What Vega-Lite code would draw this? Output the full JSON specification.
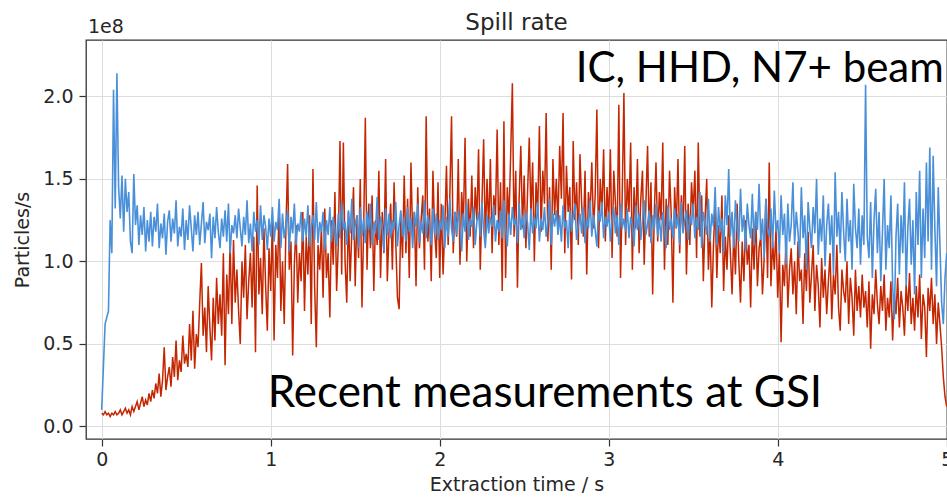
{
"$schema": "https://vega.github.io/schema/vega-lite/v6.json",
"width": 861, "height": 399,
"autosize": {"type": "none"},
"padding": {"left": 86, "top": 40, "right": 0, "bottom": 59},
"background": "white",
"title": {"text": "Spill rate", "font": "DejaVu Sans", "fontSize": 23, "fontWeight": "normal", "color": "#262626", "anchor": "middle", "offset": 8, "dy": 25},
"config": {
  "view": {"stroke": "#333333", "strokeWidth": 1.3},
  "axis": {"domain": false, "grid": true, "gridColor": "#dddddd", "gridWidth": 1, "tickColor": "#333333", "tickSize": 7, "tickWidth": 1.2,
    "labelFont": "DejaVu Sans", "labelFontSize": 19, "labelColor": "#262626", "labelOverlap": false, "labelFlush": false,
    "titleFont": "DejaVu Sans", "titleFontSize": 19, "titleFontWeight": "normal", "titleColor": "#262626"}
},
"layer": [
  {"data": {"name": "spill", "values": [
{"t":0.00,"r":0.08,"b":0.10},{"t":0.01,"r":0.07,"b":0.36},{"t":0.02,"r":0.09,"b":0.62},{"t":0.03,"r":0.07,"b":0.66},{"t":0.04,"r":0.08,"b":0.70},{"t":0.05,"r":0.06,"b":1.25},{"t":0.06,"r":0.08,"b":1.05},{"t":0.07,"r":0.07,"b":2.04},{"t":0.08,"r":0.09,"b":1.32},{"t":0.09,"r":0.07,"b":2.14},
{"t":0.10,"r":0.08,"b":1.45},{"t":0.11,"r":0.10,"b":1.26},{"t":0.12,"r":0.07,"b":1.52},{"t":0.13,"r":0.09,"b":1.18},{"t":0.14,"r":0.11,"b":1.50},{"t":0.15,"r":0.08,"b":1.30},{"t":0.16,"r":0.10,"b":1.42},{"t":0.17,"r":0.07,"b":1.12},{"t":0.18,"r":0.12,"b":1.05},{"t":0.19,"r":0.09,"b":1.53},
{"t":0.20,"r":0.12,"b":1.22},{"t":0.21,"r":0.15,"b":1.34},{"t":0.22,"r":0.10,"b":1.10},{"t":0.23,"r":0.14,"b":1.28},{"t":0.24,"r":0.18,"b":1.16},{"t":0.25,"r":0.12,"b":1.33},{"t":0.26,"r":0.16,"b":1.06},{"t":0.27,"r":0.13,"b":1.25},{"t":0.28,"r":0.20,"b":1.12},{"t":0.29,"r":0.15,"b":1.30},
{"t":0.30,"r":0.22,"b":1.09},{"t":0.31,"r":0.17,"b":1.27},{"t":0.32,"r":0.26,"b":1.18},{"t":0.33,"r":0.20,"b":1.35},{"t":0.34,"r":0.32,"b":1.08},{"t":0.35,"r":0.18,"b":1.23},{"t":0.36,"r":0.28,"b":1.14},{"t":0.37,"r":0.48,"b":1.29},{"t":0.38,"r":0.22,"b":1.04},{"t":0.39,"r":0.30,"b":1.24},
{"t":0.40,"r":0.36,"b":1.31},{"t":0.41,"r":0.24,"b":1.12},{"t":0.42,"r":0.42,"b":1.26},{"t":0.43,"r":0.30,"b":1.17},{"t":0.44,"r":0.52,"b":1.37},{"t":0.45,"r":0.28,"b":1.09},{"t":0.46,"r":0.40,"b":1.21},{"t":0.47,"r":0.33,"b":1.15},{"t":0.48,"r":0.55,"b":1.32},{"t":0.49,"r":0.38,"b":1.07},
{"t":0.50,"r":0.44,"b":1.25},{"t":0.51,"r":0.36,"b":1.13},{"t":0.52,"r":0.62,"b":1.34},{"t":0.53,"r":0.40,"b":1.20},{"t":0.54,"r":0.70,"b":1.06},{"t":0.55,"r":0.35,"b":1.28},{"t":0.56,"r":0.56,"b":1.16},{"t":0.57,"r":0.48,"b":1.30},{"t":0.58,"r":0.75,"b":1.10},{"t":0.59,"r":0.99,"b":1.23},
{"t":0.60,"r":0.55,"b":1.36},{"t":0.61,"r":0.72,"b":1.11},{"t":0.62,"r":0.45,"b":1.24},{"t":0.63,"r":0.85,"b":1.19},{"t":0.64,"r":0.60,"b":1.29},{"t":0.65,"r":0.40,"b":1.02},{"t":0.66,"r":0.78,"b":1.27},{"t":0.67,"r":0.52,"b":1.14},{"t":0.68,"r":0.90,"b":1.33},{"t":0.69,"r":0.62,"b":1.18},
{"t":0.70,"r":0.80,"b":1.08},{"t":0.71,"r":0.55,"b":1.26},{"t":0.72,"r":1.05,"b":1.15},{"t":0.73,"r":0.37,"b":1.31},{"t":0.74,"r":0.92,"b":1.12},{"t":0.75,"r":0.68,"b":1.35},{"t":0.76,"r":1.12,"b":1.05},{"t":0.77,"r":0.62,"b":1.22},{"t":0.78,"r":1.13,"b":1.17},{"t":0.79,"r":0.75,"b":1.28},
{"t":0.80,"r":0.95,"b":1.14},{"t":0.81,"r":0.70,"b":1.32},{"t":0.82,"r":0.50,"b":1.20},{"t":0.83,"r":1.00,"b":1.09},{"t":0.84,"r":0.78,"b":1.27},{"t":0.85,"r":1.10,"b":1.16},{"t":0.86,"r":0.65,"b":1.37},{"t":0.87,"r":0.88,"b":1.11},{"t":0.88,"r":1.05,"b":1.23},{"t":0.89,"r":0.72,"b":1.06},
{"t":0.90,"r":1.15,"b":1.30},{"t":0.91,"r":0.45,"b":1.18},{"t":0.92,"r":1.46,"b":1.25},{"t":0.93,"r":0.80,"b":1.10},{"t":0.94,"r":1.02,"b":1.34},{"t":0.95,"r":0.68,"b":1.13},{"t":0.96,"r":1.20,"b":1.28},{"t":0.97,"r":0.85,"b":1.21},{"t":0.98,"r":0.58,"b":1.07},{"t":0.99,"r":1.08,"b":1.26},
{"t":1.00,"r":0.82,"b":1.15},{"t":1.01,"r":1.25,"b":1.33},{"t":1.02,"r":0.52,"b":1.12},{"t":1.03,"r":1.10,"b":1.24},{"t":1.04,"r":0.90,"b":1.19},{"t":1.05,"r":1.35,"b":1.38},{"t":1.06,"r":0.70,"b":1.08},{"t":1.07,"r":1.00,"b":1.29},{"t":1.08,"r":0.62,"b":1.14},{"t":1.09,"r":1.20,"b":1.22},
{"t":1.10,"r":1.59,"b":1.31},{"t":1.11,"r":0.95,"b":1.06},{"t":1.12,"r":1.12,"b":1.27},{"t":1.13,"r":0.43,"b":1.17},{"t":1.14,"r":0.98,"b":1.35},{"t":1.15,"r":1.22,"b":1.10},{"t":1.16,"r":0.75,"b":1.23},{"t":1.17,"r":1.05,"b":1.18},{"t":1.18,"r":0.88,"b":1.30},{"t":1.19,"r":1.30,"b":1.12},
{"t":1.20,"r":0.70,"b":1.26},{"t":1.21,"r":1.15,"b":1.15},{"t":1.22,"r":0.92,"b":1.34},{"t":1.23,"r":1.28,"b":1.09},{"t":1.24,"r":0.62,"b":1.21},{"t":1.25,"r":1.56,"b":1.28},{"t":1.26,"r":0.85,"b":1.13},{"t":1.27,"r":0.48,"b":1.36},{"t":1.28,"r":1.10,"b":1.11},{"t":1.29,"r":0.95,"b":1.24},
{"t":1.30,"r":1.20,"b":1.18},{"t":1.31,"r":0.78,"b":1.30},{"t":1.32,"r":1.32,"b":1.07},{"t":1.33,"r":0.90,"b":1.25},{"t":1.34,"r":1.05,"b":1.16},{"t":1.35,"r":0.66,"b":1.33},{"t":1.36,"r":1.25,"b":1.12},{"t":1.37,"r":0.98,"b":1.27},{"t":1.38,"r":1.42,"b":1.20},{"t":1.39,"r":0.82,"b":1.09},
{"t":1.40,"r":1.10,"b":1.29},{"t":1.41,"r":1.73,"b":1.14},{"t":1.42,"r":0.92,"b":1.36},{"t":1.43,"r":1.72,"b":1.19},{"t":1.44,"r":1.00,"b":1.24},{"t":1.45,"r":0.75,"b":1.10},{"t":1.46,"r":1.30,"b":1.31},{"t":1.47,"r":0.88,"b":1.17},{"t":1.48,"r":1.18,"b":1.38},{"t":1.49,"r":1.45,"b":1.13},
{"t":1.50,"r":0.85,"b":1.22},{"t":1.51,"r":1.28,"b":1.28},{"t":1.52,"r":1.02,"b":1.08},{"t":1.53,"r":1.50,"b":1.33},{"t":1.54,"r":0.72,"b":1.15},{"t":1.55,"r":1.20,"b":1.26},{"t":1.56,"r":1.87,"b":1.11},{"t":1.57,"r":0.95,"b":1.30},{"t":1.58,"r":1.35,"b":1.19},{"t":1.59,"r":1.08,"b":1.35},
{"t":1.60,"r":1.40,"b":1.10},{"t":1.61,"r":0.82,"b":1.24},{"t":1.62,"r":1.25,"b":1.17},{"t":1.63,"r":1.10,"b":1.39},{"t":1.64,"r":1.55,"b":1.13},{"t":1.65,"r":0.90,"b":1.27},{"t":1.66,"r":1.30,"b":1.21},{"t":1.67,"r":1.05,"b":1.06},{"t":1.68,"r":1.62,"b":1.32},{"t":1.69,"r":0.88,"b":1.16},
{"t":1.70,"r":1.18,"b":1.29},{"t":1.71,"r":1.35,"b":1.14},{"t":1.72,"r":0.95,"b":1.25},{"t":1.73,"r":1.48,"b":1.19},{"t":1.74,"r":1.12,"b":1.36},{"t":1.75,"r":0.78,"b":1.09},{"t":1.76,"r":0.71,"b":1.22},{"t":1.77,"r":1.28,"b":1.31},{"t":1.78,"r":1.02,"b":1.15},{"t":1.79,"r":1.52,"b":1.27},
{"t":1.80,"r":1.05,"b":1.12},{"t":1.81,"r":1.38,"b":1.33},{"t":1.82,"r":0.90,"b":1.18},{"t":1.83,"r":1.60,"b":1.26},{"t":1.84,"r":1.15,"b":1.08},{"t":1.85,"r":1.30,"b":1.30},{"t":1.86,"r":0.85,"b":1.21},{"t":1.87,"r":1.45,"b":1.35},{"t":1.88,"r":1.08,"b":1.11},{"t":1.89,"r":1.25,"b":1.24},
{"t":1.90,"r":1.40,"b":1.17},{"t":1.91,"r":0.95,"b":1.37},{"t":1.92,"r":1.88,"b":1.14},{"t":1.93,"r":1.12,"b":1.28},{"t":1.94,"r":1.32,"b":1.22},{"t":1.95,"r":0.88,"b":1.10},{"t":1.96,"r":1.55,"b":1.32},{"t":1.97,"r":1.18,"b":1.16},{"t":1.98,"r":1.02,"b":1.29},{"t":1.99,"r":1.48,"b":1.13},
{"t":2.00,"r":0.90,"b":1.25},{"t":2.01,"r":1.35,"b":1.19},{"t":2.02,"r":0.92,"b":1.34},{"t":2.03,"r":1.20,"b":1.08},{"t":2.04,"r":1.58,"b":1.27},{"t":2.05,"r":1.10,"b":1.15},{"t":2.06,"r":1.40,"b":1.38},{"t":2.07,"r":1.88,"b":1.20},{"t":2.08,"r":1.05,"b":1.12},{"t":2.09,"r":1.30,"b":1.30},
{"t":2.10,"r":1.15,"b":1.16},{"t":2.11,"r":1.62,"b":1.31},{"t":2.12,"r":0.98,"b":1.22},{"t":2.13,"r":1.42,"b":1.06},{"t":2.14,"r":1.22,"b":1.29},{"t":2.15,"r":1.75,"b":1.18},{"t":2.16,"r":1.00,"b":1.35},{"t":2.17,"r":1.38,"b":1.13},{"t":2.18,"r":1.15,"b":1.26},{"t":2.19,"r":1.52,"b":1.21},
{"t":2.20,"r":1.08,"b":1.33},{"t":2.21,"r":1.45,"b":1.10},{"t":2.22,"r":1.25,"b":1.24},{"t":2.23,"r":1.68,"b":1.30},{"t":2.24,"r":0.95,"b":1.15},{"t":2.25,"r":1.35,"b":1.36},{"t":2.26,"r":1.74,"b":1.19},{"t":2.27,"r":1.12,"b":1.08},{"t":2.28,"r":1.50,"b":1.28},{"t":2.29,"r":1.20,"b":1.17},
{"t":2.30,"r":1.62,"b":1.27},{"t":2.31,"r":1.05,"b":1.21},{"t":2.32,"r":1.40,"b":1.34},{"t":2.33,"r":1.28,"b":1.12},{"t":2.34,"r":1.80,"b":1.25},{"t":2.35,"r":1.10,"b":1.18},{"t":2.36,"r":1.48,"b":1.31},{"t":2.37,"r":0.82,"b":1.14},{"t":2.38,"r":1.85,"b":1.37},{"t":2.39,"r":0.90,"b":1.20},
{"t":2.40,"r":1.45,"b":1.09},{"t":2.41,"r":1.25,"b":1.29},{"t":2.42,"r":1.65,"b":1.16},{"t":2.43,"r":2.08,"b":1.33},{"t":2.44,"r":1.15,"b":1.22},{"t":2.45,"r":1.55,"b":1.26},{"t":2.46,"r":0.84,"b":1.11},{"t":2.47,"r":1.38,"b":1.35},{"t":2.48,"r":1.70,"b":1.19},{"t":2.49,"r":1.20,"b":1.28},
{"t":2.50,"r":1.52,"b":1.14},{"t":2.51,"r":1.08,"b":1.30},{"t":2.52,"r":1.42,"b":1.23},{"t":2.53,"r":1.75,"b":1.07},{"t":2.54,"r":1.28,"b":1.32},{"t":2.55,"r":1.60,"b":1.17},{"t":2.56,"r":1.00,"b":1.27},{"t":2.57,"r":1.48,"b":1.20},{"t":2.58,"r":1.30,"b":1.36},{"t":2.59,"r":1.82,"b":1.12},
{"t":2.60,"r":1.18,"b":1.26},{"t":2.61,"r":1.55,"b":1.19},{"t":2.62,"r":1.35,"b":1.33},{"t":2.63,"r":1.90,"b":1.15},{"t":2.64,"r":1.12,"b":1.24},{"t":2.65,"r":1.45,"b":1.38},{"t":2.66,"r":0.95,"b":1.10},{"t":2.67,"r":1.62,"b":1.29},{"t":2.68,"r":1.28,"b":1.21},{"t":2.69,"r":1.50,"b":1.31},
{"t":2.70,"r":1.22,"b":1.16},{"t":2.71,"r":1.70,"b":1.28},{"t":2.72,"r":1.38,"b":1.12},{"t":2.73,"r":1.90,"b":1.34},{"t":2.74,"r":1.05,"b":1.20},{"t":2.75,"r":1.58,"b":1.25},{"t":2.76,"r":1.30,"b":1.08},{"t":2.77,"r":1.45,"b":1.31},{"t":2.78,"r":0.89,"b":1.18},{"t":2.79,"r":1.73,"b":1.27},
{"t":2.80,"r":1.25,"b":1.35},{"t":2.81,"r":1.48,"b":1.13},{"t":2.82,"r":1.10,"b":1.22},{"t":2.83,"r":1.65,"b":1.29},{"t":2.84,"r":1.35,"b":1.17},{"t":2.85,"r":1.15,"b":1.33},{"t":2.86,"r":1.55,"b":1.11},{"t":2.87,"r":0.92,"b":1.26},{"t":2.88,"r":1.42,"b":1.20},{"t":2.89,"r":1.28,"b":1.37},
{"t":2.90,"r":1.60,"b":1.15},{"t":2.91,"r":1.20,"b":1.28},{"t":2.92,"r":1.40,"b":1.19},{"t":2.93,"r":1.92,"b":1.09},{"t":2.94,"r":1.08,"b":1.31},{"t":2.95,"r":1.50,"b":1.24},{"t":2.96,"r":1.30,"b":1.36},{"t":2.97,"r":1.68,"b":1.14},{"t":2.98,"r":1.12,"b":1.27},{"t":2.99,"r":1.45,"b":1.21},
{"t":3.00,"r":1.25,"b":1.30},{"t":3.01,"r":1.68,"b":1.12},{"t":3.02,"r":1.02,"b":1.25},{"t":3.03,"r":1.55,"b":1.33},{"t":3.04,"r":1.35,"b":1.17},{"t":3.05,"r":1.15,"b":1.28},{"t":3.06,"r":1.95,"b":1.10},{"t":3.07,"r":0.90,"b":1.35},{"t":3.08,"r":1.40,"b":1.20},{"t":3.09,"r":2.02,"b":1.26},
{"t":3.10,"r":1.10,"b":1.18},{"t":3.11,"r":1.50,"b":1.32},{"t":3.12,"r":1.30,"b":1.14},{"t":3.13,"r":1.72,"b":1.27},{"t":3.14,"r":0.95,"b":1.22},{"t":3.15,"r":1.45,"b":1.09},{"t":3.16,"r":1.20,"b":1.34},{"t":3.17,"r":1.62,"b":1.19},{"t":3.18,"r":1.05,"b":1.29},{"t":3.19,"r":1.38,"b":1.13},
{"t":3.20,"r":1.55,"b":1.25},{"t":3.21,"r":0.98,"b":1.37},{"t":3.22,"r":1.35,"b":1.16},{"t":3.23,"r":1.70,"b":1.23},{"t":3.24,"r":1.15,"b":1.31},{"t":3.25,"r":1.48,"b":1.11},{"t":3.26,"r":0.80,"b":1.28},{"t":3.27,"r":1.30,"b":1.20},{"t":3.28,"r":1.60,"b":1.35},{"t":3.29,"r":1.12,"b":1.15},
{"t":3.30,"r":1.42,"b":1.27},{"t":3.31,"r":1.25,"b":1.12},{"t":3.32,"r":1.72,"b":1.30},{"t":3.33,"r":0.95,"b":1.21},{"t":3.34,"r":1.38,"b":1.08},{"t":3.35,"r":1.10,"b":1.34},{"t":3.36,"r":1.55,"b":1.19},{"t":3.37,"r":1.28,"b":1.26},{"t":3.38,"r":0.75,"b":1.14},{"t":3.39,"r":1.45,"b":1.32},
{"t":3.40,"r":1.20,"b":1.20},{"t":3.41,"r":1.62,"b":1.29},{"t":3.42,"r":1.05,"b":1.10},{"t":3.43,"r":1.40,"b":1.36},{"t":3.44,"r":1.18,"b":1.17},{"t":3.45,"r":1.70,"b":1.25},{"t":3.46,"r":0.92,"b":1.31},{"t":3.47,"r":1.35,"b":1.13},{"t":3.48,"r":1.10,"b":1.28},{"t":3.49,"r":1.48,"b":1.22},
{"t":3.50,"r":1.30,"b":1.35},{"t":3.51,"r":1.55,"b":1.14},{"t":3.52,"r":1.02,"b":1.27},{"t":3.53,"r":1.72,"b":1.19},{"t":3.54,"r":1.15,"b":1.42},{"t":3.55,"r":1.40,"b":1.08},{"t":3.56,"r":0.88,"b":1.30},{"t":3.57,"r":1.25,"b":1.23},{"t":3.58,"r":1.50,"b":1.16},{"t":3.59,"r":0.95,"b":1.38},
{"t":3.60,"r":1.20,"b":1.12},{"t":3.61,"r":0.72,"b":1.29},{"t":3.62,"r":1.10,"b":1.21},{"t":3.63,"r":1.35,"b":1.45},{"t":3.64,"r":0.90,"b":1.10},{"t":3.65,"r":1.22,"b":1.33},{"t":3.66,"r":1.05,"b":1.18},{"t":3.67,"r":1.40,"b":1.26},{"t":3.68,"r":0.82,"b":1.05},{"t":3.69,"r":1.15,"b":1.40},
{"t":3.70,"r":0.95,"b":1.22},{"t":3.71,"r":1.28,"b":1.56},{"t":3.72,"r":1.05,"b":1.15},{"t":3.73,"r":0.80,"b":1.30},{"t":3.74,"r":1.18,"b":1.08},{"t":3.75,"r":0.92,"b":1.37},{"t":3.76,"r":1.35,"b":1.20},{"t":3.77,"r":1.00,"b":1.12},{"t":3.78,"r":0.75,"b":1.44},{"t":3.79,"r":1.12,"b":1.18},
{"t":3.80,"r":0.88,"b":1.28},{"t":3.81,"r":1.25,"b":1.06},{"t":3.82,"r":0.98,"b":1.35},{"t":3.83,"r":1.10,"b":1.22},{"t":3.84,"r":0.72,"b":1.14},{"t":3.85,"r":1.20,"b":1.41},{"t":3.86,"r":0.95,"b":1.10},{"t":3.87,"r":1.30,"b":1.30},{"t":3.88,"r":0.85,"b":1.19},{"t":3.89,"r":1.08,"b":1.47},
{"t":3.90,"r":1.15,"b":1.13},{"t":3.91,"r":0.80,"b":1.26},{"t":3.92,"r":1.02,"b":1.02},{"t":3.93,"r":1.38,"b":1.38},{"t":3.94,"r":0.90,"b":1.20},{"t":3.95,"r":1.60,"b":1.15},{"t":3.96,"r":0.85,"b":1.32},{"t":3.97,"r":1.12,"b":1.08},{"t":3.98,"r":0.95,"b":1.43},{"t":3.99,"r":1.20,"b":1.18},
{"t":4.00,"r":0.78,"b":1.25},{"t":4.01,"r":1.05,"b":1.05},{"t":4.02,"r":0.51,"b":1.40},{"t":4.03,"r":0.98,"b":1.16},{"t":4.04,"r":0.85,"b":1.29},{"t":4.05,"r":1.15,"b":0.98},{"t":4.06,"r":0.72,"b":1.35},{"t":4.07,"r":0.95,"b":1.12},{"t":4.08,"r":1.08,"b":1.22},{"t":4.09,"r":0.80,"b":1.48},
{"t":4.10,"r":1.00,"b":1.10},{"t":4.11,"r":0.68,"b":1.30},{"t":4.12,"r":1.12,"b":1.18},{"t":4.13,"r":0.88,"b":1.02},{"t":4.14,"r":0.95,"b":1.45},{"t":4.15,"r":0.62,"b":1.14},{"t":4.16,"r":1.05,"b":1.28},{"t":4.17,"r":0.82,"b":0.95},{"t":4.18,"r":1.18,"b":1.36},{"t":4.19,"r":0.75,"b":1.20},
{"t":4.20,"r":0.92,"b":1.08},{"t":4.21,"r":1.10,"b":1.33},{"t":4.22,"r":0.70,"b":1.17},{"t":4.23,"r":0.98,"b":1.50},{"t":4.24,"r":0.85,"b":1.04},{"t":4.25,"r":0.60,"b":1.26},{"t":4.26,"r":1.02,"b":1.12},{"t":4.27,"r":0.78,"b":1.40},{"t":4.28,"r":0.95,"b":0.97},{"t":4.29,"r":0.68,"b":1.22},
{"t":4.30,"r":0.88,"b":1.35},{"t":4.31,"r":1.05,"b":1.10},{"t":4.32,"r":0.65,"b":1.28},{"t":4.33,"r":0.92,"b":0.92},{"t":4.34,"r":0.80,"b":1.54},{"t":4.35,"r":1.10,"b":1.15},{"t":4.36,"r":0.72,"b":1.30},{"t":4.37,"r":0.58,"b":1.05},{"t":4.38,"r":0.95,"b":1.42},{"t":4.39,"r":0.82,"b":1.18},
{"t":4.40,"r":0.75,"b":1.00},{"t":4.41,"r":1.00,"b":1.38},{"t":4.42,"r":0.62,"b":1.12},{"t":4.43,"r":0.90,"b":1.25},{"t":4.44,"r":0.78,"b":0.95},{"t":4.45,"r":0.55,"b":1.47},{"t":4.46,"r":0.95,"b":1.20},{"t":4.47,"r":0.70,"b":1.08},{"t":4.48,"r":0.85,"b":1.32},{"t":4.49,"r":0.66,"b":0.98},
{"t":4.50,"r":0.92,"b":1.28},{"t":4.51,"r":0.72,"b":1.10},{"t":4.52,"r":0.82,"b":2.07},{"t":4.53,"r":0.60,"b":1.15},{"t":4.54,"r":0.88,"b":1.02},{"t":4.55,"r":0.47,"b":1.36},{"t":4.56,"r":0.80,"b":0.90},{"t":4.57,"r":0.68,"b":1.25},{"t":4.58,"r":0.95,"b":1.44},{"t":4.59,"r":0.74,"b":1.05},
{"t":4.60,"r":0.62,"b":1.30},{"t":4.61,"r":0.85,"b":0.88},{"t":4.62,"r":0.70,"b":1.18},{"t":4.63,"r":0.92,"b":1.50},{"t":4.64,"r":0.58,"b":0.95},{"t":4.65,"r":0.78,"b":1.22},{"t":4.66,"r":0.66,"b":1.08},{"t":4.67,"r":0.88,"b":1.40},{"t":4.68,"r":0.52,"b":0.86},{"t":4.69,"r":0.80,"b":0.65},
{"t":4.70,"r":0.68,"b":1.15},{"t":4.71,"r":0.90,"b":1.35},{"t":4.72,"r":0.60,"b":0.92},{"t":4.73,"r":0.82,"b":1.28},{"t":4.74,"r":0.72,"b":1.05},{"t":4.75,"r":0.55,"b":1.48},{"t":4.76,"r":0.86,"b":0.85},{"t":4.77,"r":0.70,"b":1.20},{"t":4.78,"r":0.93,"b":1.38},{"t":4.79,"r":0.62,"b":0.98},
{"t":4.80,"r":0.78,"b":1.25},{"t":4.81,"r":0.58,"b":0.80},{"t":4.82,"r":0.85,"b":1.42},{"t":4.83,"r":0.66,"b":1.10},{"t":4.84,"r":0.92,"b":1.55},{"t":4.85,"r":0.53,"b":0.90},{"t":4.86,"r":0.80,"b":1.32},{"t":4.87,"r":0.72,"b":1.02},{"t":4.88,"r":0.42,"b":1.60},{"t":4.89,"r":0.84,"b":1.12},
{"t":4.90,"r":0.70,"b":1.69},{"t":4.91,"r":0.90,"b":0.95},{"t":4.92,"r":0.62,"b":1.64},{"t":4.93,"r":0.80,"b":1.20},{"t":4.94,"r":0.50,"b":0.85},{"t":4.95,"r":0.75,"b":1.45},{"t":4.96,"r":0.62,"b":1.10},{"t":4.97,"r":0.48,"b":0.75},{"t":4.98,"r":0.30,"b":0.62},{"t":4.99,"r":0.18,"b":0.90},
{"t":5.00,"r":0.12,"b":1.05}
  ]},
   "layer": [
    {"mark": {"type": "line", "color": "#c32600", "strokeWidth": 1.5, "clip": true},
     "encoding": {
       "x": {"field": "t", "type": "quantitative", "scale": {"domain": [-0.0929, 5.0018], "nice": false, "zero": false},
             "axis": {"values": [0, 1, 2, 3, 4, 5], "format": "d", "title": "Extraction time / s", "labelPadding": 4, "titlePadding": 6}},
       "y": {"field": "r", "type": "quantitative", "scale": {"domain": [-0.0764, 2.3418], "nice": false, "zero": false},
             "axis": {"values": [0, 0.5, 1, 1.5, 2], "format": ".1f", "title": "Particles/s", "labelPadding": 6, "titlePadding": 10}}
     }},
    {"mark": {"type": "line", "color": "#4a90d9", "strokeWidth": 1.6, "clip": true},
     "encoding": {
       "x": {"field": "t", "type": "quantitative"},
       "y": {"field": "b", "type": "quantitative", "title": "Particles/s"}
     }}
   ]},
  {"data": {"values": [{}]},
   "mark": {"type": "text", "text": "1e8", "font": "DejaVu Sans", "fontSize": 19, "color": "#262626", "align": "left", "baseline": "alphabetic", "dx": 2, "dy": -7},
   "encoding": {"x": {"datum": -0.0929, "type": "quantitative"}, "y": {"datum": 2.3418, "type": "quantitative"}}},
  {"data": {"values": [{}]},
   "mark": {"type": "text", "text": "IC, HHD, N7+ beam", "font": "Lato", "fontSize": 42, "color": "#000000", "align": "left", "baseline": "alphabetic"},
   "encoding": {"x": {"datum": 2.805, "type": "quantitative"}, "y": {"datum": 2.085, "type": "quantitative"}}},
  {"data": {"values": [{}]},
   "mark": {"type": "text", "text": "Recent measurements at GSI", "font": "Lato", "fontSize": 44, "color": "#000000", "align": "left", "baseline": "alphabetic"},
   "encoding": {"x": {"datum": 0.982, "type": "quantitative"}, "y": {"datum": 0.115, "type": "quantitative"}}}
]
}
